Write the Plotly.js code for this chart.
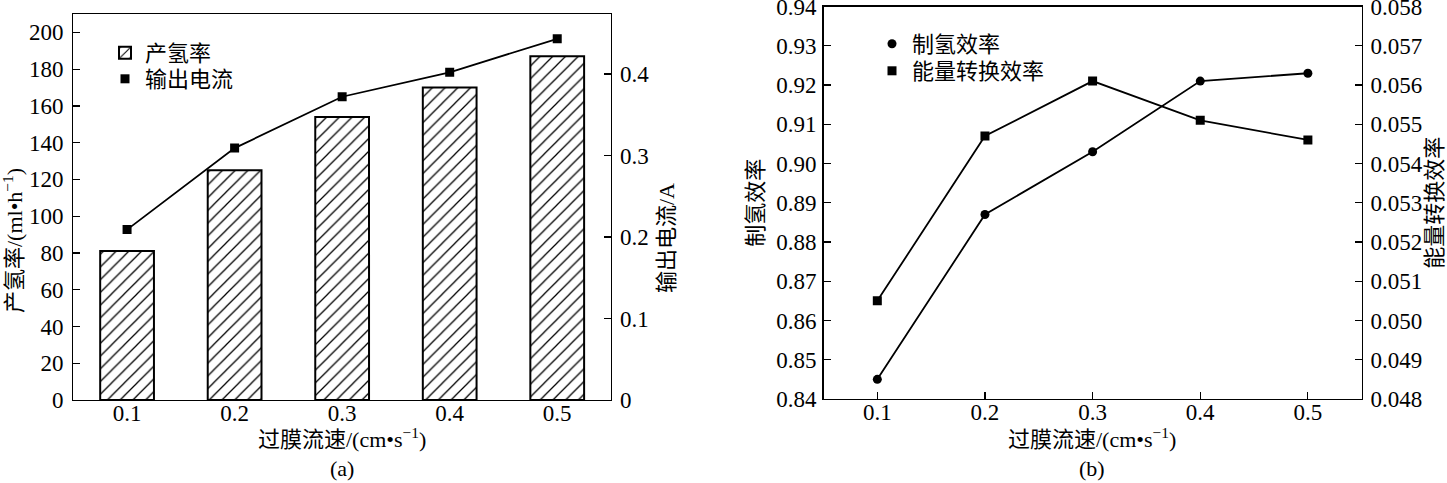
<!DOCTYPE html>
<html><head><meta charset="utf-8">
<script src="https://cdn.plot.ly/plotly-3.0.1.min.js"></script>
<style>html,body{margin:0;padding:0;background:#fff;}</style>
</head><body>
<div id="chart" style="width:1447px;height:483px;"></div>
<script>
// ---- data ----
const flowRates = [0.1, 0.2, 0.3, 0.4, 0.5];
const flowTickText = ['0.1', '0.2', '0.3', '0.4', '0.5'];
const h2Rate = [81, 125, 154, 170, 187];                 // 产氢率 ml/h
const outputCurrent = [0.209, 0.309, 0.372, 0.402, 0.443]; // 输出电流 A
const h2Efficiency = [0.845, 0.887, 0.903, 0.921, 0.923];  // 制氢效率
const energyEfficiency = [0.0505, 0.0547, 0.0561, 0.0551, 0.0546]; // 能量转换效率

const W = 1447, H = 483;
const FONT = "'Liberation Serif', 'Noto Sans CJK SC', serif";
const fs = 22;      // CJK / title text
const tfs = 23;     // tick labels
const px = v => v / W;
const py = v => (H - v) / H;

const axisBase = {
  showline: true, linecolor: '#000', linewidth: 1.3,
  ticks: 'inside', ticklen: 7, tickwidth: 1.2, tickcolor: '#000',
  showgrid: false, zeroline: false,
  tickfont: {family: FONT, size: tfs, color: '#000'},
  ticklabelstandoff: 3, ticklabeloverflow: 'allow'
};

const legendBase = {
  xanchor: 'left', yanchor: 'middle',
  bgcolor: 'rgba(0,0,0,0)', borderwidth: 0, tracegroupgap: 0,
  font: {family: FONT, size: fs, color: '#000'}
};

const traces = [
  {
    type: 'bar', x: flowRates, y: h2Rate, width: 0.05, name: '产氢率',
    xaxis: 'x', yaxis: 'y', legend: 'legend',
    marker: {color: '#fff', line: {color: '#000', width: 2},
      pattern: {shape: '/', size: 9, solidity: 0.14, fgcolor: '#000', fgopacity: 1, bgcolor: '#fff', fillmode: 'overlay'}}
  },
  {
    type: 'scatter', mode: 'lines', x: flowRates, y: outputCurrent, xaxis: 'x', yaxis: 'y2',
    line: {color: '#000', width: 1.8}, showlegend: false, hoverinfo: 'skip'
  },
  {
    type: 'scatter', mode: 'markers', x: flowRates, y: outputCurrent, name: '输出电流',
    xaxis: 'x', yaxis: 'y2', legend: 'legend2',
    marker: {symbol: 'square', size: 9, color: '#000'}
  },
  {
    type: 'scatter', mode: 'lines', x: flowRates, y: h2Efficiency, xaxis: 'x2', yaxis: 'y3',
    line: {color: '#000', width: 1.8}, showlegend: false, hoverinfo: 'skip'
  },
  {
    type: 'scatter', mode: 'markers', x: flowRates, y: h2Efficiency, name: '制氢效率',
    xaxis: 'x2', yaxis: 'y3', legend: 'legend3',
    marker: {symbol: 'circle', size: 9, color: '#000'}
  },
  {
    type: 'scatter', mode: 'lines', x: flowRates, y: energyEfficiency, xaxis: 'x2', yaxis: 'y4',
    line: {color: '#000', width: 1.8}, showlegend: false, hoverinfo: 'skip'
  },
  {
    type: 'scatter', mode: 'markers', x: flowRates, y: energyEfficiency, name: '能量转换效率',
    xaxis: 'x2', yaxis: 'y4', legend: 'legend4',
    marker: {symbol: 'square', size: 9, color: '#000'}
  }
];

const leftDomX = [px(73.3), px(611)];
const leftDomY = [py(400), py(14)];
const rightDomX = [px(823.5), px(1361.7)];
const rightDomY = [py(399), py(6.5)];

const xTitle = '过膜流速/(cm•s<sup>−1</sup>)';

const layout = {
  width: W, height: H,
  margin: {l: 0, r: 0, t: 0, b: 0},
  paper_bgcolor: '#fff', plot_bgcolor: '#fff',
  font: {family: FONT, size: fs, color: '#000'},
  bargap: 0,
  xaxis: Object.assign({}, axisBase, {
    domain: leftDomX, anchor: 'y', range: [0.05, 0.55], ticks: '',
    tickvals: flowRates, ticktext: flowTickText, mirror: true, ticklabelstandoff: -8
  }),
  yaxis: Object.assign({}, axisBase, {
    domain: leftDomY, anchor: 'x', range: [0, 210], dtick: 20, tick0: 0, ticklabelstandoff: 4
  }),
  yaxis2: Object.assign({}, axisBase, {
    overlaying: 'y', side: 'right', anchor: 'x', range: [0, 0.4735], dtick: 0.1, tick0: 0
  }),
  xaxis2: Object.assign({}, axisBase, {
    domain: rightDomX, anchor: 'y3', range: [0.05, 0.55],
    tickvals: flowRates, ticktext: flowTickText, mirror: true, ticklabelstandoff: -8
  }),
  yaxis3: Object.assign({}, axisBase, {
    domain: rightDomY, anchor: 'x2', range: [0.83999, 0.94001], dtick: 0.01, tick0: 0.84, tickformat: '.2f',
    ticklabelstandoff: 1,
    title: {text: '制氢效率', font: {family: FONT, size: fs}, standoff: 6}
  }),
  yaxis4: Object.assign({}, axisBase, {
    overlaying: 'y3', side: 'right', anchor: 'x2', range: [0.047999, 0.058001], dtick: 0.001, tick0: 0.048, tickformat: '.3f',
    title: {text: '能量转换效率', font: {family: FONT, size: fs}, standoff: 4}
  }),
  legend: Object.assign({}, legendBase, {x: px(105), y: py(53)}),
  legend2: Object.assign({}, legendBase, {x: px(105), y: py(79)}),
  legend3: Object.assign({}, legendBase, {x: px(872), y: py(44)}),
  legend4: Object.assign({}, legendBase, {x: px(872), y: py(71)}),
  annotations: [
    {xref: 'paper', yref: 'paper', x: px(13), y: py(241), xanchor: 'center', yanchor: 'middle',
     text: '产氢率/(ml•h<sup>−1</sup>)', textangle: -90, showarrow: false, font: {family: FONT, size: fs}},
    {xref: 'paper', yref: 'paper', x: px(667), y: py(238), xanchor: 'center', yanchor: 'middle',
     text: '输出电流/A', textangle: -90, showarrow: false, font: {family: FONT, size: fs}},
    {xref: 'paper', yref: 'paper', x: px(342), y: py(438), xanchor: 'center', yanchor: 'middle',
     text: xTitle, showarrow: false, font: {family: FONT, size: fs}},
    {xref: 'paper', yref: 'paper', x: px(1092), y: py(438), xanchor: 'center', yanchor: 'middle',
     text: xTitle, showarrow: false, font: {family: FONT, size: fs}},
    {xref: 'paper', yref: 'paper', x: px(342), y: py(468), xanchor: 'center', yanchor: 'middle',
     text: '(a)', showarrow: false, font: {family: FONT, size: fs}},
    {xref: 'paper', yref: 'paper', x: px(1092), y: py(468), xanchor: 'center', yanchor: 'middle',
     text: '(b)', showarrow: false, font: {family: FONT, size: fs}}
  ]
};

Plotly.newPlot('chart', traces, layout, {displayModeBar: false, staticPlot: true});
</script>
</body></html>
